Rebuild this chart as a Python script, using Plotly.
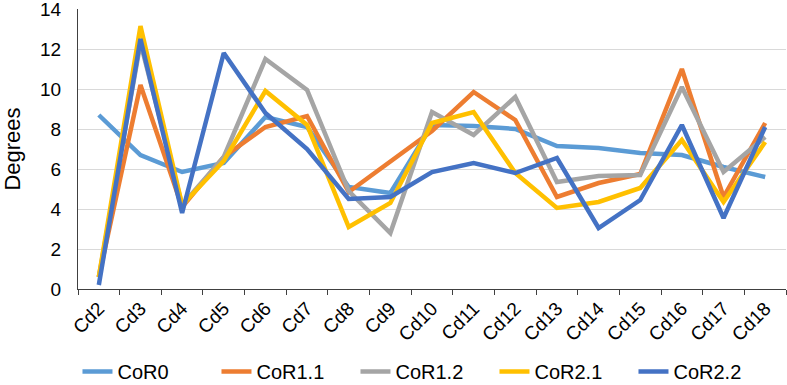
import plotly.graph_objects as go

categories = ["Cd2", "Cd3", "Cd4", "Cd5", "Cd6", "Cd7", "Cd8", "Cd9", "Cd10",
              "Cd11", "Cd12", "Cd13", "Cd14", "Cd15", "Cd16", "Cd17", "Cd18"]

cor0 = [8.7, 6.7, 5.85, 6.3, 8.6, 8.1, 5.1, 4.8, 8.2, 8.15, 8.0, 7.15, 7.05, 6.8, 6.7, 6.1, 5.6]
cor1_1 = [0.6, 10.2, 4.1, 6.6, 8.1, 8.65, 4.85, 6.35, 7.9, 9.85, 8.45, 4.6, 5.3, 5.75, 11.0, 4.6, 8.3]
cor1_2 = [0.6, 12.3, 4.2, 6.6, 11.5, 9.95, 4.9, 2.8, 8.85, 7.7, 9.6, 5.35, 5.65, 5.7, 10.1, 5.85, 7.6]
cor2_1 = [0.6, 13.15, 4.2, 6.4, 9.9, 8.2, 3.1, 4.3, 8.3, 8.85, 5.8, 4.05, 4.35, 5.05, 7.45, 4.35, 7.35]
cor2_2 = [0.2, 12.5, 3.8, 11.8, 8.8, 7.0, 4.5, 4.6, 5.85, 6.3, 5.8, 6.55, 3.05, 4.45, 8.2, 3.55, 8.1]

series = [
    ("CoR0", cor0, "#5B9BD5"),
    ("CoR1.1", cor1_1, "#ED7D31"),
    ("CoR1.2", cor1_2, "#A5A5A5"),
    ("CoR2.1", cor2_1, "#FFC000"),
    ("CoR2.2", cor2_2, "#4472C4"),
]

fig = go.Figure()
for name, vals, color in series:
    fig.add_trace(go.Scatter(x=categories, y=vals, name=name, mode="lines",
                             line=dict(color=color, width=4.5)))

fig.update_layout(
    width=787, height=385,
    margin=dict(l=78, r=1, t=9, b=96, autoexpand=False),
    paper_bgcolor="white", plot_bgcolor="white",
    font=dict(family="Liberation Sans, Arial, sans-serif", color="#000000"),
    showlegend=True,
    legend=dict(orientation="h", xref="container", yref="container",
                x=0.54, xanchor="center", y=0.035, yanchor="middle",
                font=dict(size=20), entrywidth=94, entrywidthmode="pixels",
                tracegroupgap=0),
)
fig.update_xaxes(
    type="category", range=[-0.5, 16.5],
    showline=True, linecolor="#404040", linewidth=1,
    ticks="outside", tickson="boundaries", ticklen=5, tickcolor="#404040",
    tickangle=-45, tickfont=dict(size=19), showgrid=False,
)
fig.update_yaxes(
    range=[0, 14], dtick=2,
    showline=True, linecolor="#404040", linewidth=1,
    gridcolor="#D9D9D9", gridwidth=1.3,
    tickfont=dict(size=19), ticklabeloverflow="allow", ticklabelstandoff=12,
    title=dict(text="Degrees", font=dict(size=22), standoff=13),
    zeroline=False,
)

fig.write_html("out.html")
